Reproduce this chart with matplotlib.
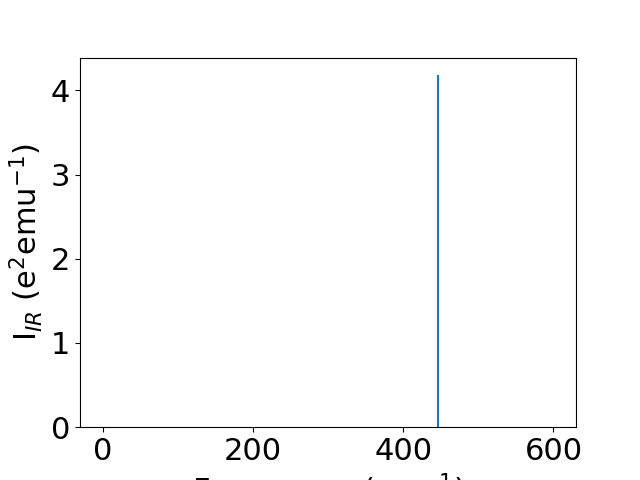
import matplotlib.pyplot as plt

# IR spectrum: stick heights, only one nonzero peak
freq = [0, 447, 600]
intensity = [0, 4.18, 0]

plt.rcParams['font.size'] = 22

fig, ax = plt.subplots(figsize=(6.4, 4.8), dpi=100)
ax.vlines(freq, 0, intensity, color='#1f77b4', linewidth=1.5)
ax.set_ylim(bottom=0)
ax.set_xlabel('Frequency (cm$^{-1}$)')
ax.set_ylabel('I$_{IR}$ (e$^2$emu$^{-1}$)')

fig.savefig('out.png')
